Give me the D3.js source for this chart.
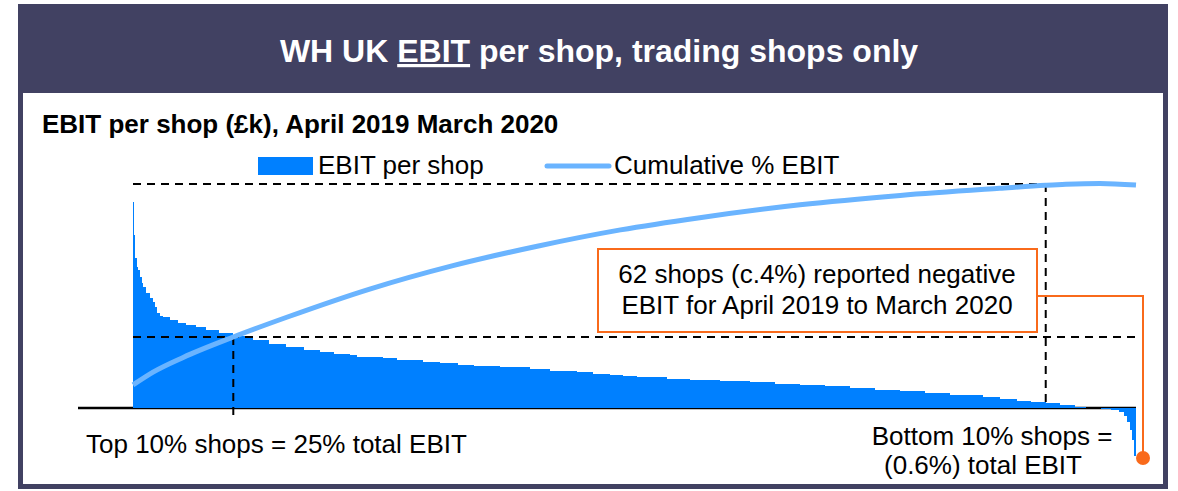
<!DOCTYPE html>
<meta charset="utf-8">
<html lang="en">
<head>
    <title>WH UK EBIT per shop</title>
    <script type="text/javascript" src="https://d3js.org/d3.v7.min.js"></script>
</head>
<style>
    body { margin: 0; background: #fff; }
    text { font-family: "Liberation Sans", Arial, sans-serif; fill: #000; }
    .ref { stroke: #000; stroke-width: 2px; stroke-dasharray: 8,6; fill: none; }
</style>
<body>
<script>
    // EBIT per shop (£k), shops ranked best to worst; each bar starts at shopPct[i] (% of shops)
    var shopPct = [0, 0.1, 0.2, 0.35, 0.5, 0.7, 0.85, 1.0, 1.3, 1.7, 2.0, 2.2, 2.4, 2.7, 3.0, 3.7, 4.5, 5.3, 6.3, 7.3,
        8.6, 10.0, 12.0, 13.6, 15.3, 17.0, 18.6, 20.0, 21.6, 22.3, 24.9, 26.3, 27.3, 28.9, 30.6, 32.4, 34.0, 36.6,
        39.6, 41.6, 44.3, 45.9, 47.6, 48.9, 50.2, 53.2, 55.5, 58.5, 61.5, 64.0, 66.5, 69.0, 71.5, 74.0, 76.5, 79.0,
        81.5, 84.7, 86.4, 88.1, 89.5, 91.0, 92.4, 93.9, 95.0, 96.5, 97.5, 98.3, 98.8, 99.1, 99.4, 99.6, 99.8];
    var ebit = [515, 432, 375, 352, 345, 327, 312, 302, 287, 275, 265, 252, 237, 230, 227, 220, 212, 207, 202, 195,
        187, 180, 170, 160, 152, 146, 140, 136, 132, 127, 125, 121, 119, 116, 112, 108, 105, 102,
        97, 92, 90, 85, 82, 80, 77, 72, 70, 67, 65, 61, 57, 54, 50, 46, 42, 37,
        32, 27, 22, 17, 14, 12, 7, 3, -1, -3, -5, -9, -20, -35, -55, -80, -120];

    // cumulative % of total EBIT against % of shops
    var cumShop = [0, 2, 5, 10, 15.4, 23.6, 31.9, 40.3, 48.6, 56.5, 66.5, 76.5, 86.4, 91, 93, 96.4, 100];
    var cumEbit = [1.5, 7.8, 15, 25, 34.8, 48.5, 60, 69.5, 77.5, 83.5, 89.8, 94.4, 97.9, 99.4, 99.9, 100.3, 99.5];

    // reference markers: top 10% shops = 25% EBIT, 100% EBIT reached around 91% of shops
    var refShop = [10, 91];
    var refCum = [25, 100];

    var W = 1178, H = 491;
    var navy = "#414162", barBlue = "#0080ff", lineBlue = "#6ab4ff", orange = "#f96a1b";

    var svg = d3.select("body").append("svg").attr("width", W).attr("height", H);

    // frame
    svg.append("rect").attr("x", 18).attr("y", 4).attr("width", 1150).attr("height", 485).attr("fill", navy);
    svg.append("rect").attr("x", 23).attr("y", 93).attr("width", 1140).attr("height", 391).attr("fill", "#fff");

    var title = svg.append("text").attr("x", 599).attr("y", 62).attr("text-anchor", "middle")
        .style("font-size", "32px").style("font-weight", "bold").style("fill", "#fff");
    title.append("tspan").text("WH UK ");
    title.append("tspan").style("text-decoration", "underline").text("EBIT");
    title.append("tspan").text(" per shop, trading shops only");

    svg.append("text").attr("x", 42).attr("y", 133)
        .style("font-size", "26px").style("font-weight", "bold")
        .text("EBIT per shop (£k), April 2019 March 2020");

    // scales
    var x = d3.scaleLinear().domain([0, 100]).range([133, 1136]);
    var yBar = d3.scaleLinear().domain([0, 515]).range([408, 202]);
    var yCum = d3.scaleLinear().domain([0, 100]).range([388, 184]);

    // axis line
    svg.append("line").attr("x1", 78).attr("x2", x(100)).attr("y1", yBar(0)).attr("y2", yBar(0))
        .attr("stroke", "#000").attr("stroke-width", 2.5);

    // bars
    var bars = shopPct.map(function (p, i) {
        return {x0: p, x1: i < shopPct.length - 1 ? shopPct[i + 1] : 100, v: ebit[i]};
    });
    svg.append("g").attr("shape-rendering", "crispEdges")
        .selectAll("rect").data(bars).join("rect")
        .attr("x", d => Math.round(x(d.x0)))
        .attr("width", d => Math.max(1, Math.round(x(d.x1)) - Math.round(x(d.x0))))
        .attr("y", d => yBar(Math.max(0, d.v)))
        .attr("height", d => Math.abs(yBar(d.v) - yBar(0)))
        .attr("fill", barBlue);

    // reference dashed lines
    svg.append("line").attr("class", "ref").attr("x1", x(0)).attr("x2", x(100))
        .attr("y1", yCum(refCum[1])).attr("y2", yCum(refCum[1]));
    svg.append("line").attr("class", "ref").attr("x1", x(0)).attr("x2", x(100))
        .attr("y1", yCum(refCum[0])).attr("y2", yCum(refCum[0]));
    svg.append("line").attr("class", "ref").attr("x1", x(refShop[0])).attr("x2", x(refShop[0]))
        .attr("y1", yCum(refCum[0])).attr("y2", yBar(0) + 7);
    svg.append("line").attr("class", "ref").attr("x1", x(refShop[1])).attr("x2", x(refShop[1]))
        .attr("y1", yCum(refCum[1])).attr("y2", yBar(0));

    // cumulative line
    var line = d3.line().x(d => x(d[0])).y(d => yCum(d[1])).curve(d3.curveMonotoneX);
    svg.append("path").datum(cumShop.map((s, i) => [s, cumEbit[i]]))
        .attr("d", line).attr("fill", "none").attr("stroke", lineBlue).attr("stroke-width", 5);

    // legend
    svg.append("rect").attr("x", 258).attr("y", 157).attr("width", 55).attr("height", 18).attr("fill", barBlue);
    svg.append("text").attr("x", 318).attr("y", 174).style("font-size", "26px").text("EBIT per shop");
    svg.append("line").attr("x1", 547).attr("x2", 609).attr("y1", 166).attr("y2", 166)
        .attr("stroke", lineBlue).attr("stroke-width", 5).attr("stroke-linecap", "round");
    svg.append("text").attr("x", 614).attr("y", 174).style("font-size", "26px").text("Cumulative % EBIT");

    // callout
    var lastBar = bars[bars.length - 1];
    var dotX = x(100) + 7, dotY = yBar(lastBar.v) + 2;
    svg.append("polyline")
        .attr("points", [[1037, 296], [dotX, 296], [dotX, dotY]].join(" "))
        .attr("fill", "none").attr("stroke", orange).attr("stroke-width", 2);
    svg.append("circle").attr("cx", dotX).attr("cy", dotY).attr("r", 7).attr("fill", orange);
    svg.append("rect").attr("x", 598).attr("y", 249).attr("width", 439).attr("height", 83)
        .attr("fill", "#fff").attr("stroke", orange).attr("stroke-width", 2);
    svg.append("text").attr("x", 817).attr("y", 283).attr("text-anchor", "middle").style("font-size", "26px")
        .text("62 shops (c.4%) reported negative");
    svg.append("text").attr("x", 817).attr("y", 314).attr("text-anchor", "middle").style("font-size", "26px")
        .text("EBIT for April 2019 to March 2020");

    // bottom labels
    svg.append("text").attr("x", 86).attr("y", 453).style("font-size", "26px")
        .text("Top 10% shops = 25% total EBIT");
    svg.append("text").attr("x", 992).attr("y", 445).attr("text-anchor", "middle").style("font-size", "26px")
        .text("Bottom 10% shops =");
    svg.append("text").attr("x", 983).attr("y", 474).attr("text-anchor", "middle").style("font-size", "26px")
        .text("(0.6%) total EBIT");
</script>
</body>
</html>
